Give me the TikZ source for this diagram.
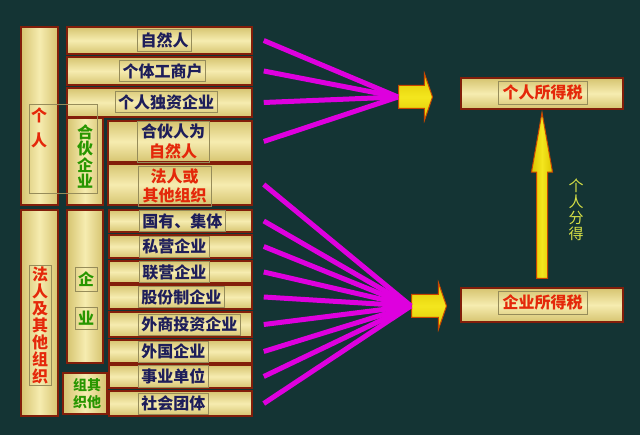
\documentclass[tikz,border=0pt]{standalone}
\usepackage{fontspec}
\setmainfont{Noto Sans CJK SC}
\usetikzlibrary{shapes.arrows,positioning}

\definecolor{bgteal}{RGB}{20,52,52}
\definecolor{boxlight}{RGB}{246,236,176}
\definecolor{boxdark}{RGB}{214,196,112}
\definecolor{boxedge}{RGB}{130,30,10}
\definecolor{lblline}{RGB}{150,140,90}
\definecolor{txtnavy}{RGB}{30,30,90}
\definecolor{txtred}{RGB}{228,40,10}
\definecolor{txtgreen}{RGB}{40,150,0}
\definecolor{fanpink}{RGB}{222,0,222}
\definecolor{arrowyel}{RGB}{220,198,0}
\definecolor{arrowlight}{RGB}{244,230,30}
\definecolor{arrowedge}{RGB}{200,70,0}
\definecolor{sharetxt}{RGB}{215,225,70}

\tikzset{
  rowbox/.style={draw=boxedge, line width=1.5pt, top color=boxdark, bottom color=boxdark, middle color=boxlight, inner sep=0pt},
  colbox/.style={draw=boxedge, line width=1.5pt, left color=boxdark, right color=boxdark, middle color=boxlight, inner sep=0pt},
  lblbox/.style={draw=lblline, line width=0.6pt, inner sep=3pt, minimum height=20, text=txtnavy, font=\fontsize{16}{20}\selectfont\bfseries},
  coltxt/.style={align=center, inner sep=0pt, font=\fontsize{16}{17}\selectfont\bfseries},
  fanline/.style={draw=fanpink, line width=5pt},
  fatarrow/.style={single arrow, anchor=tail, draw=arrowedge, line width=1pt, top color=arrowyel, bottom color=arrowyel, middle color=arrowlight, inner sep=11pt, single arrow head extend=12pt, single arrow tip angle=142, minimum width=47, minimum height=34},
  uparrow/.style={single arrow, anchor=tail, shape border rotate=90, draw=arrowedge, line width=1pt, left color=arrowyel, right color=arrowyel, middle color=arrowlight, inner sep=5pt, single arrow head extend=5pt, single arrow tip angle=20, minimum width=20, minimum height=166}
}

\begin{document}
\begin{tikzpicture}[x=1pt, y=-1pt]
    % background
    \fill[bgteal] (0,0) rectangle (640,435);
    \useasboundingbox (0,0) rectangle (640,435);

    % left columns
    \node [colbox, minimum width=37, minimum height=178] (geren) at (39.5,116) {};
    \node [colbox, minimum width=37, minimum height=206] (faren) at (39.5,313) {};
    \node [colbox, minimum width=36, minimum height=87] (hehuo) at (85,161.5) {};
    \node [colbox, minimum width=36, minimum height=153] (qiye) at (85,286.5) {};
    \node [colbox, minimum width=44, minimum height=41] (qita) at (85,393.5) {};

    % rows of the 个人 group
    \node [rowbox, minimum width=185, minimum height=27] (ziran) at (159.5,40.5) {};
    \node [rowbox, minimum width=185, minimum height=28] (geti) at (159.5,71) {};
    \node [rowbox, minimum width=185, minimum height=29] (duzi) at (159.5,102.5) {};
    \node [rowbox, minimum width=144, minimum height=41] (hhziran) at (180,141.5) {};
    \node [rowbox, minimum width=144, minimum height=41] (hhfaren) at (180,184.5) {};

    % rows of the 法人 group
    \node [rowbox, minimum width=143, minimum height=22] (guoyou) at (180.5,221) {};
    \node [rowbox, minimum width=143, minimum height=23] (siying) at (180.5,246.5) {};
    \node [rowbox, minimum width=143, minimum height=22] (lianying) at (180.5,272) {};
    \node [rowbox, minimum width=143, minimum height=24] (gufen) at (180.5,297) {};
    \node [rowbox, minimum width=143, minimum height=25] (waishang) at (180.5,324.5) {};
    \node [rowbox, minimum width=143, minimum height=23] (waiguo) at (180.5,351.5) {};
    \node [rowbox, minimum width=143, minimum height=23] (shiye) at (180.5,376.5) {};
    \node [rowbox, minimum width=143, minimum height=25] (shetuan) at (180.5,403.5) {};

    % row labels
    \node [lblbox] (ziranL) at (164.5,40.5) {自然人};
    \node [lblbox] (getiL) at (162.5,71) {个体工商户};
    \node [lblbox] (duziL) at (166,102) {个人独资企业};
    \node [lblbox, align=center, minimum width=72, minimum height=41, font=\fontsize{16}{20}\selectfont\bfseries] (hhziranL) at (173,141.5) {合伙人为\\\textcolor{txtred}{自然人}};
    \node [lblbox, align=center, text=txtred, minimum width=73, minimum height=39, font=\fontsize{16}{19}\selectfont\bfseries] (hhfarenL) at (174.5,186) {法人或\\其他组织};
    \node [lblbox, anchor=west] (guoyouL) at (139,221) {国有、集体};
    \node [lblbox, anchor=west] (siyingL) at (139,246.5) {私营企业};
    \node [lblbox, anchor=west] (lianyingL) at (139,272) {联营企业};
    \node [lblbox, anchor=west] (gufenL) at (138,297) {股份制企业};
    \node [lblbox, anchor=west] (waishangL) at (138,324.5) {外商投资企业};
    \node [lblbox, anchor=west] (waiguoL) at (138,351.5) {外国企业};
    \node [lblbox, anchor=west] (shiyeL) at (138,376.5) {事业单位};
    \node [lblbox, anchor=west] (shetuanL) at (138,403.5) {社会团体};

    % column labels
    \node [coltxt, text=txtred, font=\fontsize{16}{25}\selectfont\bfseries] (gerenT) at (39,127.5) {个\\人};
    \node [draw=lblline, line width=0.6pt, minimum width=68, minimum height=89, inner sep=0pt] (gerenL) at (63,148.5) {};
    \node [coltxt, text=txtred, draw=lblline, line width=0.6pt, minimum width=22, minimum height=120] (farenL) at (40,325) {法\\人\\及\\其\\他\\组\\织};
    \node [coltxt, text=txtgreen, font=\fontsize{16}{16.5}\selectfont\bfseries] (hehuoT) at (85,156.5) {合\\伙\\企\\业};
    \node [coltxt, text=txtgreen, draw=lblline, line width=0.6pt, minimum width=22, minimum height=24] (qiyeA) at (86,279) {企};
    \node [coltxt, text=txtgreen, draw=lblline, line width=0.6pt, minimum width=22, minimum height=22] (qiyeB) at (86,318) {业};
    \node [coltxt, text=txtgreen, font=\fontsize{14}{17}\selectfont\bfseries] (qitaT) at (87,394) {组其\\织他};

    % tax boxes
    \node [rowbox, minimum width=162, minimum height=31] (grsds) at (542,93.5) {};
    \node [rowbox, minimum width=162, minimum height=34] (qysds) at (542,305) {};
    \node [lblbox, text=txtred, minimum width=89, minimum height=23] (grsdsL) at (542.5,92.5) {个人所得税};
    \node [lblbox, text=txtred, minimum width=89, minimum height=23] (qysdsL) at (542.5,302.5) {企业所得税};

    % arrows
    \node [fatarrow] (arrGr) at (398,97) {};
    \node [fatarrow, minimum height=35, minimum width=46] (arrQy) at (411,306) {};
    \node [uparrow] (arrShare) at (542,279) {};
    \node [coltxt, text=sharetxt, font=\fontsize{15}{16}\selectfont] (shareT) at (576,210) {个\\人\\分\\得};

    % fan of lines
    \foreach \r in {ziran,geti,duzi,hhziran}
        \draw [fanline] ([xshift=11pt]\r.east) -- (arrGr.tail);
    \foreach \r in {hhfaren,guoyou,siying,lianying,gufen,waishang,waiguo,shiye,shetuan}
        \draw [fanline] ([xshift=11pt]\r.east) -- (arrQy.tail);
\end{tikzpicture}
\end{document}
